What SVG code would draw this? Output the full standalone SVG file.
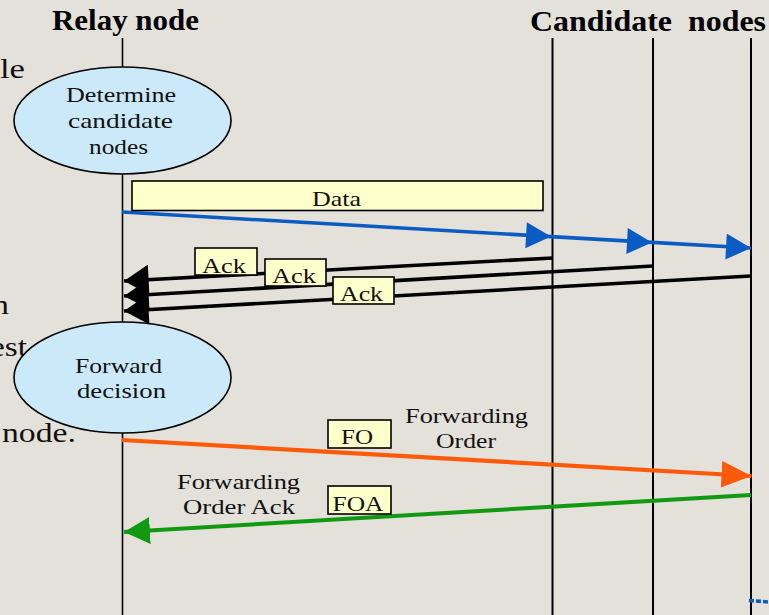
<svg xmlns="http://www.w3.org/2000/svg" width="769" height="615" viewBox="0 0 769 615">
  <style>
    .bg { fill: #E4E1DA; }
    .life { stroke: #000; stroke-width: 1.6; fill: none; }
    .life2 { stroke: #000; stroke-width: 2; fill: none; }
    .proc { fill: #CCE9FA; stroke: #000; stroke-width: 1.6; }
    .tag { fill: #FFFFCC; stroke: #000; stroke-width: 1.6; }
    .head { font-family: "Liberation Serif", "Times New Roman", serif; font-weight: bold; font-size: 29px; fill: #000; }
    .txt { font-family: "Liberation Serif", "Times New Roman", serif; font-size: 22px; fill: #111; text-anchor: middle; }
    .bgtxt { font-family: "Liberation Serif", "Times New Roman", serif; font-size: 28px; fill: #111; text-anchor: end; }
    .msg { fill: none; stroke-width: 3.6; }
    .data { stroke: #0A5CC2; }
    .ack { stroke: #000; }
    .fo { stroke: #FF5A0A; stroke-width: 4.2; }
    .foa { stroke: #119A11; stroke-width: 4; }
  </style>
  <defs>
    <marker id="ahBlue" markerUnits="userSpaceOnUse" markerWidth="26" markerHeight="26" viewBox="0 0 24 25" refX="24" refY="12.5" orient="auto">
      <path d="M0,0 L24,12.5 L0,25 Z" fill="#0A5CC2"/>
    </marker>
    <marker id="ahBlack" markerUnits="userSpaceOnUse" markerWidth="26" markerHeight="30" viewBox="0 0 23 28" refX="23" refY="14" orient="auto">
      <path d="M0,0 L23,14 L0,28 Z" fill="#000"/>
    </marker>
    <marker id="ahOrange" markerUnits="userSpaceOnUse" markerWidth="30" markerHeight="27" viewBox="0 0 28 25" refX="28" refY="12.5" orient="auto">
      <path d="M0,0 L28,12.5 L0,25 Z" fill="#FF5A0A"/>
    </marker>
    <marker id="ahGreen" markerUnits="userSpaceOnUse" markerWidth="26" markerHeight="27" viewBox="0 0 24 25" refX="24" refY="12.5" orient="auto">
      <path d="M0,0 L24,12.5 L0,25 Z" fill="#119A11"/>
    </marker>
  </defs>

  <rect class="bg" x="0" y="0" width="769" height="615"/>

  <!-- text of the underlying slide, partly hidden at the left edge -->
  <g id="slide-text">
    <text class="bgtxt" x="25" y="78" textLength="25" lengthAdjust="spacingAndGlyphs">le</text>
    <text class="bgtxt" x="9" y="314" textLength="17" lengthAdjust="spacingAndGlyphs">n</text>
    <text class="bgtxt" x="27" y="356" textLength="37" lengthAdjust="spacingAndGlyphs">est</text>
    <text class="bgtxt" x="76" y="442" textLength="74" lengthAdjust="spacingAndGlyphs">node.</text>
  </g>

  <!-- lifelines -->
  <g id="relay-node">
    <text class="head" x="52" y="30" textLength="147" lengthAdjust="spacingAndGlyphs">Relay node</text>
    <line class="life" x1="122.5" y1="38" x2="122.5" y2="615"/>
  </g>
  <g id="candidate-nodes">
    <text class="head" x="530" y="31" textLength="236" lengthAdjust="spacingAndGlyphs" xml:space="preserve">Candidate  nodes</text>
    <line class="life2" x1="552.5" y1="38" x2="552.5" y2="615"/>
    <line class="life2" x1="653" y1="38" x2="653" y2="615"/>
    <line class="life2" x1="751" y1="38" x2="751" y2="615"/>
  </g>

  <!-- processing steps on the relay node -->
  <g id="determine-candidates">
    <ellipse class="proc" cx="122.5" cy="120.5" rx="108.5" ry="53.5"/>
    <text class="txt" x="121" y="102" textLength="110" lengthAdjust="spacingAndGlyphs">Determine</text>
    <text class="txt" x="120.5" y="128" textLength="105" lengthAdjust="spacingAndGlyphs">candidate</text>
    <text class="txt" x="118.5" y="154" textLength="59" lengthAdjust="spacingAndGlyphs">nodes</text>
  </g>
  <g id="forward-decision">
    <ellipse class="proc" cx="122.5" cy="377.5" rx="108.5" ry="55.5"/>
    <text class="txt" x="118.5" y="373" textLength="87" lengthAdjust="spacingAndGlyphs">Forward</text>
    <text class="txt" x="121.5" y="398" textLength="89" lengthAdjust="spacingAndGlyphs">decision</text>
  </g>

  <!-- messages -->
  <g id="connectors">
    <polyline class="msg data" points="122,212 551,236.6 652,242.4 751,248" marker-mid="url(#ahBlue)" marker-end="url(#ahBlue)"/>
    <line class="msg ack" x1="553" y1="258" x2="124" y2="281" marker-end="url(#ahBlack)"/>
    <line class="msg ack" x1="653" y1="266" x2="124" y2="296" marker-end="url(#ahBlack)"/>
    <line class="msg ack" x1="751" y1="276" x2="124" y2="311" marker-end="url(#ahBlack)"/>
    <line class="msg fo" x1="122" y1="440" x2="751.5" y2="476" marker-end="url(#ahOrange)"/>
    <line class="msg foa" x1="751" y1="495" x2="124" y2="532" marker-end="url(#ahGreen)"/>
    <line class="msg data" x1="749" y1="600.5" x2="769" y2="602" stroke-width="4" stroke-dasharray="5 2"/>
  </g>

  <!-- message labels -->
  <g id="data-label">
    <rect class="tag" x="132" y="181" width="411" height="29.5"/>
    <text class="txt" x="336.5" y="206" textLength="49" lengthAdjust="spacingAndGlyphs">Data</text>
  </g>
  <g id="ack-label-1">
    <rect class="tag" x="195" y="248" width="62" height="27"/>
    <text class="txt" x="224" y="273" textLength="44" lengthAdjust="spacingAndGlyphs">Ack</text>
  </g>
  <g id="ack-label-2">
    <rect class="tag" x="265" y="259" width="61" height="27"/>
    <text class="txt" x="294" y="283" textLength="44" lengthAdjust="spacingAndGlyphs">Ack</text>
  </g>
  <g id="ack-label-3">
    <rect class="tag" x="333" y="277" width="61" height="27"/>
    <text class="txt" x="361.5" y="301" textLength="43" lengthAdjust="spacingAndGlyphs">Ack</text>
  </g>
  <g id="fo-label">
    <rect class="tag" x="328" y="420" width="63" height="28"/>
    <text class="txt" x="357" y="444" textLength="32" lengthAdjust="spacingAndGlyphs">FO</text>
    <text class="txt" x="466.5" y="423" textLength="123" lengthAdjust="spacingAndGlyphs">Forwarding</text>
    <text class="txt" x="466" y="448" textLength="60" lengthAdjust="spacingAndGlyphs">Order</text>
  </g>
  <g id="foa-label">
    <rect class="tag" x="328" y="486" width="63" height="28"/>
    <text class="txt" x="358" y="511" textLength="51" lengthAdjust="spacingAndGlyphs">FOA</text>
    <text class="txt" x="238.5" y="489" textLength="123" lengthAdjust="spacingAndGlyphs">Forwarding</text>
    <text class="txt" x="239" y="514" textLength="112" lengthAdjust="spacingAndGlyphs">Order Ack</text>
  </g>
</svg>
